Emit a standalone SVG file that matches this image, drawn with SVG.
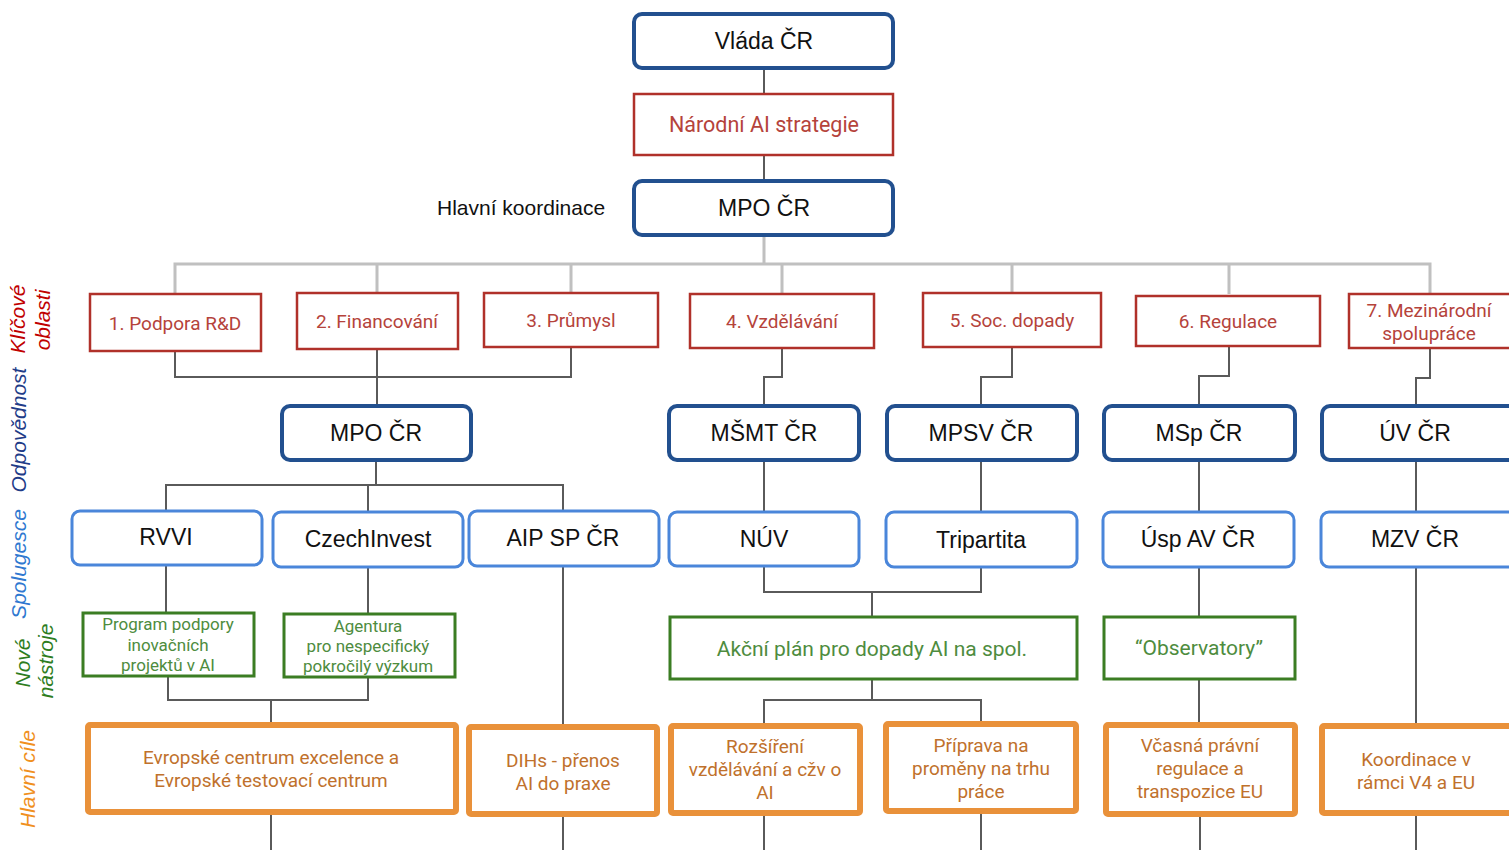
<svg xmlns="http://www.w3.org/2000/svg" width="1509" height="850" viewBox="0 0 1509 850">
<style>
.bg{fill:#ffffff}
.nb{fill:#fff;stroke:#22508F;stroke-width:4}
.lb{fill:#fff;stroke:#4A86DA;stroke-width:3}
.rd{fill:#fff;stroke:#B0312A;stroke-width:2.5}
.gr{fill:#fff;stroke:#3B7D23;stroke-width:3}
.or{fill:#fff;stroke:#E9913A;stroke-width:6}
.tb{font-family:"Liberation Sans",Arial,sans-serif;font-size:23px;fill:#111;text-anchor:middle}
.tr{font-family:Roboto,"Liberation Sans",sans-serif;font-size:19px;fill:#B5433B;text-anchor:middle}
.tg{font-family:Roboto,"Liberation Sans",sans-serif;font-size:17px;fill:#4E8C3E;text-anchor:middle}
.tgl{font-family:Roboto,"Liberation Sans",sans-serif;font-size:21px;fill:#4E8C3E;text-anchor:middle}
.to{font-family:Roboto,"Liberation Sans",sans-serif;font-size:19px;fill:#C0712C;text-anchor:middle}
.side{font-family:"Liberation Sans",Arial,sans-serif;font-size:21px;font-style:italic;text-anchor:middle}
.c{fill:none;stroke:#5A5A5A;stroke-width:2}
.cl{fill:none;stroke:#C0C0C0;stroke-width:3}
</style>
<rect class="bg" x="0" y="0" width="1509" height="850"/>

<g id="connectors">
<path class="c" d="M764 69V93M764 156V180"/>
<path class="cl" d="M764 236V264M175 293V264H1430V293M377 264V292M571 264V292M782 264V293M1012 264V292M1229 264V294"/>
<path class="c" d="M175 352V377H571V348M377 350V405"/>
<path class="c" d="M782 349V377H764V405M1012 348V377H981V405M1229 347V376H1199V405M1430 349V378H1416V405"/>
<path class="c" d="M376 461V485M166 511V485H563V511M368 485V512"/>
<path class="c" d="M764 461V512M981 461V512M1199 461V512M1416 461V512"/>
<path class="c" d="M166 565V613M368 567V614M563 566V725"/>
<path class="c" d="M764 566V592H981V567M872 592V616M1199 567V616M1416 567V724"/>
<path class="c" d="M168 676V700H368V677M271 700V723"/>
<path class="c" d="M872 679V700M764 724V700H981V722M1199 679V723"/>
<path class="c" d="M271 813V850M563 815V850M764 814V850M981 812V850M1200 815V850M1416 814V850"/>
</g>

<g id="side-labels">
<text class="side" fill="#C00000" transform="translate(25,319) rotate(-90)">Klíčové</text>
<text class="side" fill="#C00000" transform="translate(50,320) rotate(-90)">oblasti</text>
<text class="side" fill="#1F3C88" transform="translate(26,430) rotate(-90)">Odpovědnost</text>
<text class="side" fill="#2F78D0" transform="translate(26,564) rotate(-90)">Spolugesce</text>
<text class="side" fill="#2E7D1E" transform="translate(30,663) rotate(-90)">Nové</text>
<text class="side" fill="#2E7D1E" transform="translate(53,661) rotate(-90)">nástroje</text>
<text class="side" fill="#F0901E" transform="translate(35,779) rotate(-90)">Hlavní cíle</text>
</g>

<g id="n-vlada"><rect class="nb" x="634" y="14" width="259" height="54" rx="8"/><text class="tb" x="764" y="49">Vláda ČR</text></g>
<g id="n-strategie"><rect class="rd" x="634" y="94" width="259" height="61"/><text class="tr" style="font-size:21.5px" x="764" y="132">Národní AI strategie</text></g>
<g id="n-mpo-top"><rect class="nb" x="634" y="181" width="259" height="54" rx="8"/><text class="tb" x="764" y="216">MPO ČR</text></g>
<g id="n-koord"><text x="437" y="215" style="font-family:'Liberation Sans',Arial,sans-serif;font-size:21px;fill:#111">Hlavní koordinace</text></g>

<g id="n-k1"><rect class="rd" x="90" y="294" width="171" height="57"/><text class="tr" x="175" y="330">1. Podpora R&amp;D</text></g>
<g id="n-k2"><rect class="rd" x="297" y="293" width="161" height="56"/><text class="tr" x="377" y="328">2. Financování</text></g>
<g id="n-k3"><rect class="rd" x="484" y="293" width="174" height="54"/><text class="tr" x="571" y="327">3. Průmysl</text></g>
<g id="n-k4"><rect class="rd" x="690" y="294" width="184" height="54"/><text class="tr" x="782" y="328">4. Vzdělávání</text></g>
<g id="n-k5"><rect class="rd" x="923" y="293" width="178" height="54"/><text class="tr" x="1012" y="327">5. Soc. dopady</text></g>
<g id="n-k6"><rect class="rd" x="1136" y="296" width="184" height="50"/><text class="tr" x="1228" y="328">6. Regulace</text></g>
<g id="n-k7"><rect class="rd" x="1349" y="294" width="170" height="54"/><text class="tr" x="1429" y="317">7. Mezinárodní</text><text class="tr" x="1429" y="340">spolupráce</text></g>

<g id="n-mpo"><rect class="nb" x="282" y="406" width="189" height="54" rx="8"/><text class="tb" x="376" y="441">MPO ČR</text></g>
<g id="n-msmt"><rect class="nb" x="669" y="406" width="190" height="54" rx="8"/><text class="tb" x="764" y="441">MŠMT ČR</text></g>
<g id="n-mpsv"><rect class="nb" x="887" y="406" width="190" height="54" rx="8"/><text class="tb" x="981" y="441">MPSV ČR</text></g>
<g id="n-msp"><rect class="nb" x="1104" y="406" width="191" height="54" rx="8"/><text class="tb" x="1199" y="441">MSp ČR</text></g>
<g id="n-uv"><rect class="nb" x="1322" y="406" width="200" height="54" rx="8"/><text class="tb" x="1415" y="441">ÚV ČR</text></g>

<g id="n-rvvi"><rect class="lb" x="72" y="511" width="190" height="54" rx="8"/><text class="tb" x="166" y="545">RVVI</text></g>
<g id="n-czechinvest"><rect class="lb" x="273" y="512" width="190" height="55" rx="8"/><text class="tb" x="368" y="547">CzechInvest</text></g>
<g id="n-aip"><rect class="lb" x="469" y="511" width="190" height="55" rx="8"/><text class="tb" x="563" y="546">AIP SP ČR</text></g>
<g id="n-nuv"><rect class="lb" x="669" y="512" width="190" height="54" rx="8"/><text class="tb" x="764" y="547">NÚV</text></g>
<g id="n-tripartita"><rect class="lb" x="886" y="512" width="191" height="55" rx="8"/><text class="tb" x="981" y="548">Tripartita</text></g>
<g id="n-usp"><rect class="lb" x="1103" y="512" width="191" height="55" rx="8"/><text class="tb" x="1198" y="547">Úsp AV ČR</text></g>
<g id="n-mzv"><rect class="lb" x="1321" y="512" width="200" height="55" rx="8"/><text class="tb" x="1415" y="547">MZV ČR</text></g>

<g id="n-program"><rect class="gr" x="83" y="613" width="171" height="63"/><text class="tg" x="168" y="630">Program podpory</text><text class="tg" x="168" y="651">inovačních</text><text class="tg" x="168" y="671">projektů v AI</text></g>
<g id="n-agentura"><rect class="gr" x="284" y="614" width="171" height="63"/><text class="tg" x="368" y="632">Agentura</text><text class="tg" x="368" y="652">pro nespecifický</text><text class="tg" x="368" y="672">pokročilý výzkum</text></g>
<g id="n-akcni"><rect class="gr" x="670" y="617" width="407" height="62"/><text class="tgl" x="872" y="656">Akční plán pro dopady AI na spol.</text></g>
<g id="n-observatory"><rect class="gr" x="1104" y="617" width="191" height="62"/><text class="tgl" x="1199" y="655">“Observatory”</text></g>

<g id="n-evropske"><rect class="or" x="88" y="725" width="368" height="87" rx="2"/><text class="to" x="271" y="764">Evropské centrum excelence a</text><text class="to" x="271" y="787">Evropské testovací centrum</text></g>
<g id="n-dihs"><rect class="or" x="469" y="727" width="188" height="87" rx="2"/><text class="to" x="563" y="767">DIHs - přenos</text><text class="to" x="563" y="790">AI do praxe</text></g>
<g id="n-rozsireni"><rect class="or" x="671" y="726" width="189" height="87" rx="2"/><text class="to" x="765" y="753">Rozšíření</text><text class="to" x="765" y="776">vzdělávání a cžv o</text><text class="to" x="765" y="799">AI</text></g>
<g id="n-priprava"><rect class="or" x="886" y="724" width="190" height="87" rx="2"/><text class="to" x="981" y="752">Příprava na</text><text class="to" x="981" y="775">proměny na trhu</text><text class="to" x="981" y="798">práce</text></g>
<g id="n-vcasna"><rect class="or" x="1106" y="725" width="189" height="89" rx="2"/><text class="to" x="1200" y="752">Včasná právní</text><text class="to" x="1200" y="775">regulace a</text><text class="to" x="1200" y="798">transpozice EU</text></g>
<g id="n-koordinace"><rect class="or" x="1322" y="726" width="200" height="87" rx="2"/><text class="to" x="1416" y="766">Koordinace v</text><text class="to" x="1416" y="789">rámci V4 a EU</text></g>
</svg>
